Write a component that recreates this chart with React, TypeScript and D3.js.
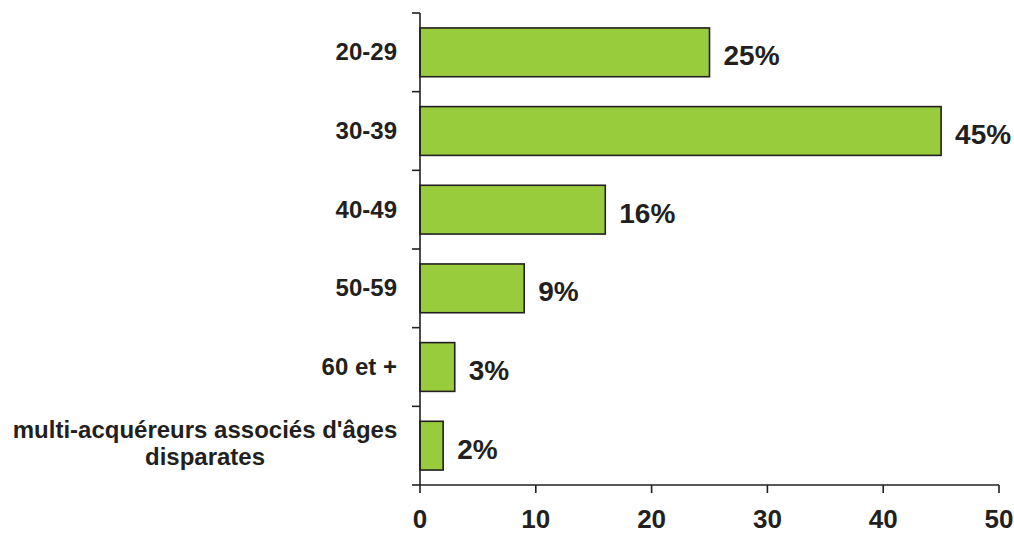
import React from "react";
import * as d3 from "d3";

const categories: string[][] = [
  ["20-29"],
  ["30-39"],
  ["40-49"],
  ["50-59"],
  ["60 et +"],
  ["multi-acquéreurs associés d'âges", "disparates"],
];
const values: number[] = [25, 45, 16, 9, 3, 2];
const valueLabels: string[] = ["25%", "45%", "16%", "9%", "3%", "2%"];
const xTicks: number[] = [0, 10, 20, 30, 40, 50];

export default function App() {
  const W = 1014, H = 534;
  const x = d3.scaleLinear().domain([0, 50]).range([420, 999]);
  const y = d3
    .scaleBand<number>()
    .domain(d3.range(categories.length))
    .range([13, 485])
    .paddingInner(0.38)
    .paddingOuter(0.19);
  const band = (485 - 13) / categories.length;
  const font = "'Liberation Sans', Arial, sans-serif";
  const ink = "#231F20";
  return (
    <svg width={W} height={H} style={{ position: "absolute", left: 0, top: 0 }}>
      <rect width={W} height={H} fill="#fff" />
      {values.map((v, i) => (
        <rect
          key={i}
          x={x(0)}
          y={y(i)!}
          width={x(v) - x(0)}
          height={y.bandwidth()}
          fill="#99CC3D"
          stroke={ink}
          strokeWidth={1.6}
        />
      ))}
      {/* y axis */}
      <line x1={420} x2={420} y1={13} y2={485} stroke={ink} strokeWidth={1.6} />
      {d3.range(categories.length + 1).map((i) => (
        <line key={i} x1={412} x2={420} y1={13 + i * band} y2={13 + i * band} stroke={ink} strokeWidth={1.6} />
      ))}
      {/* x axis */}
      <line x1={420} x2={999} y1={485} y2={485} stroke={ink} strokeWidth={1.6} />
      {xTicks.map((t) => (
        <g key={t}>
          <line x1={x(t)} x2={x(t)} y1={485} y2={493} stroke={ink} strokeWidth={1.6} />
          <text x={x(t)} y={528} textAnchor="middle" fontFamily={font} fontWeight="bold" fontSize={26} fill={ink}>
            {t}
          </text>
        </g>
      ))}
      {/* category labels */}
      {categories.map((lines, i) => {
        const cy = y(i)! + y.bandwidth() / 2;
        if (lines.length === 1) {
          return (
            <text key={i} x={397} y={cy + 8} textAnchor="end" fontFamily={font} fontWeight="bold" fontSize={24} fill={ink}>
              {lines[0]}
            </text>
          );
        }
        return (
          <text key={i} x={205} y={cy - 8} textAnchor="middle" fontFamily={font} fontWeight="bold" fontSize={24} fill={ink}>
            {lines.map((l, k) => (
              <tspan key={k} x={205} dy={k === 0 ? 0 : 27}>
                {l}
              </tspan>
            ))}
          </text>
        );
      })}
      {/* value labels */}
      {values.map((v, i) => (
        <text
          key={i}
          x={x(v) + 14}
          y={y(i)! + y.bandwidth() / 2 + 13}
          textAnchor="start"
          fontFamily={font}
          fontWeight="bold"
          fontSize={28}
          fill={ink}
        >
          {valueLabels[i]}
        </text>
      ))}
    </svg>
  );
}
